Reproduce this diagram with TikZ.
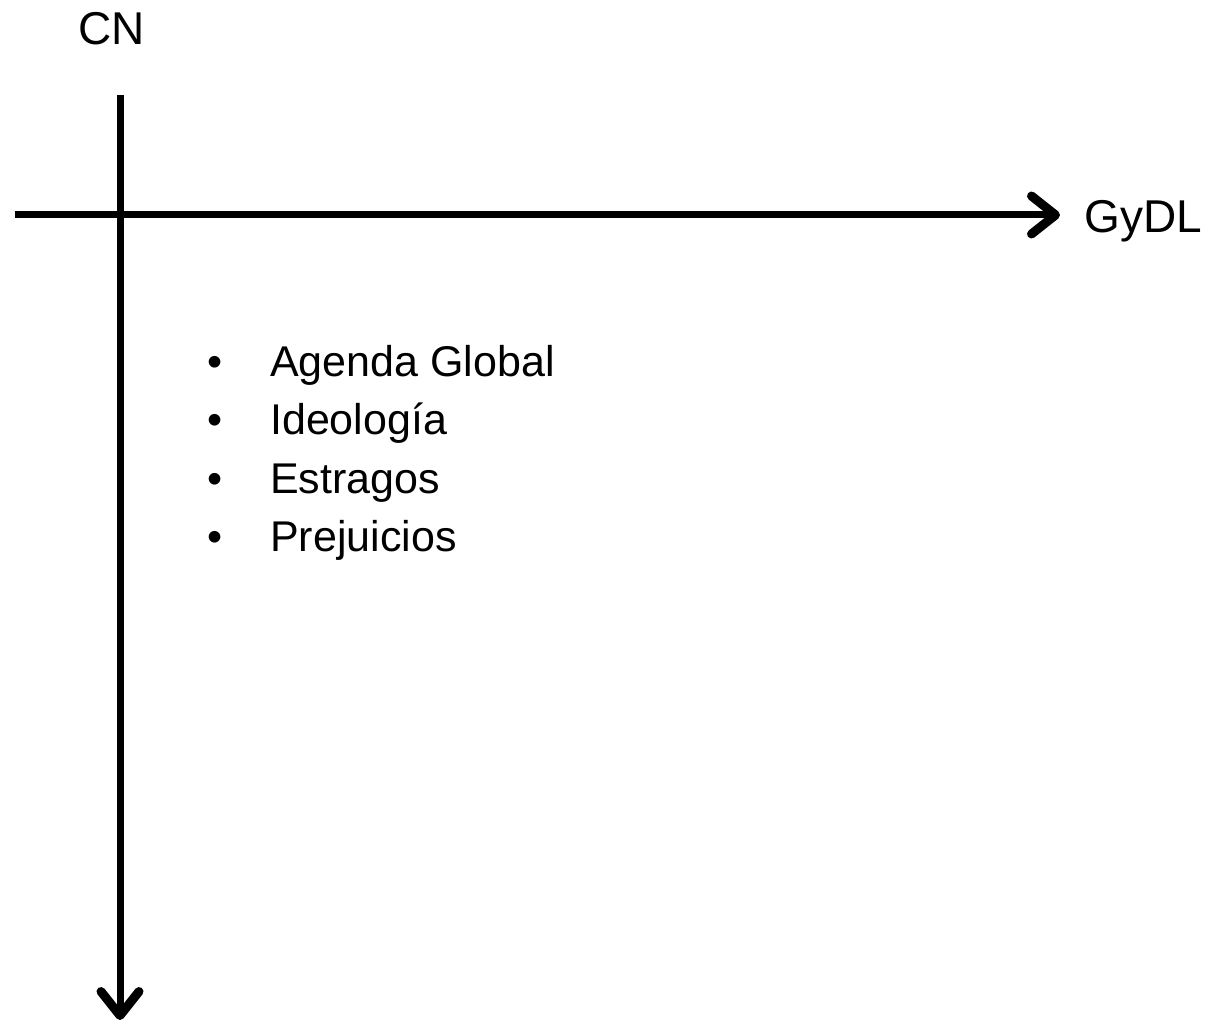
\documentclass[tikz,border=0pt]{standalone}
\usepackage{fontspec}
\setmainfont{Liberation Sans}
\usetikzlibrary{arrows.meta}
\tikzset{
    axis/.style={line width=7pt, -{Straight Barb[round,length=24pt,width=38pt,line width=9pt]}},
    axislabel/.style={font=\fontsize{46}{55}\selectfont, inner sep=0pt, anchor=base west},
    itemtext/.style={font=\fontsize{43}{52}\selectfont, inner sep=0pt, anchor=base west},
}
\begin{document}
\begin{tikzpicture}[x=1pt,y=-1pt]
            \useasboundingbox (0,0) rectangle (1212,1024);

            \coordinate (Vtop) at (120,95);
            \coordinate (Vend) at (120,1020);
            \coordinate (Hleft) at (15,215);
            \coordinate (Hend) at (1060,215);

            \node[axislabel] (CN) at (78,45) {CN};
            \node[axislabel] (GyDL) at (1084,233) {GyDL};

            \draw[axis] (Vtop) to (Vend);
            \draw[axis] (Hleft) to (Hend);

            \foreach \txt [count=\i] in {Agenda Global, Ideología, Estragos, Prejuicios}
            {
                \node[itemtext] (b\i) at (207,376+58.5*\i-58.5) {•};
                \node[itemtext] (t\i) at (270,376+58.5*\i-58.5) {\txt};
            }
        \end{tikzpicture}
\end{document}
